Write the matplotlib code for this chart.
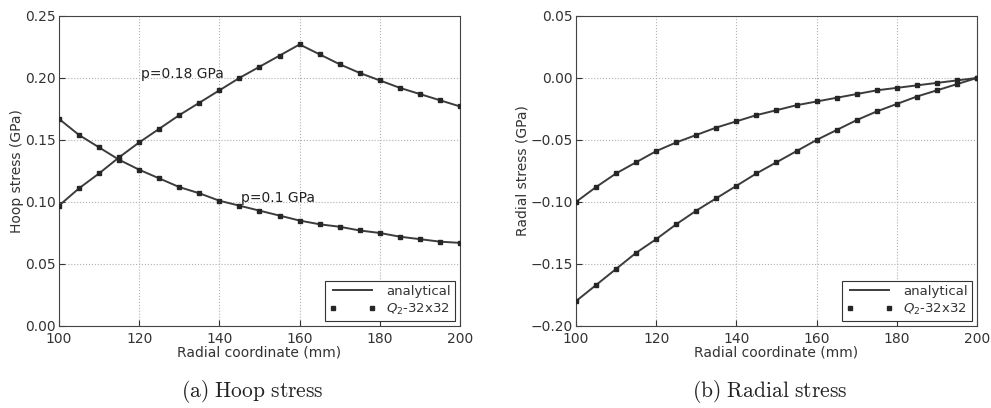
import matplotlib
matplotlib.use('Agg')
import matplotlib.pyplot as plt

# radial positions (mm)
r = [100, 105, 110, 115, 120, 125, 130, 135, 140, 145, 150,
     155, 160, 165, 170, 175, 180, 185, 190, 195, 200]

# hoop stress (GPa)
hoop_p010 = [0.167, 0.154, 0.144, 0.134, 0.126, 0.119, 0.112, 0.107, 0.101, 0.097, 0.093,
             0.089, 0.085, 0.082, 0.080, 0.077, 0.075, 0.072, 0.070, 0.068, 0.067]
hoop_p018 = [0.097, 0.111, 0.123, 0.136, 0.148, 0.159, 0.170, 0.180, 0.190, 0.200, 0.209,
             0.218, 0.227, 0.219, 0.211, 0.204, 0.198, 0.192, 0.187, 0.182, 0.177]

# radial stress (GPa)
rad_p010 = [-0.100, -0.088, -0.077, -0.068, -0.059, -0.052, -0.046, -0.040, -0.035, -0.030, -0.026,
            -0.022, -0.019, -0.016, -0.013, -0.010, -0.008, -0.006, -0.004, -0.002, 0.000]
rad_p018 = [-0.180, -0.167, -0.154, -0.141, -0.130, -0.118, -0.107, -0.097, -0.087, -0.077, -0.068,
            -0.059, -0.050, -0.042, -0.034, -0.027, -0.021, -0.015, -0.010, -0.005, 0.000]

hoop_ticks = [0.00, 0.05, 0.10, 0.15, 0.20, 0.25]
rad_ticks = [-0.20, -0.15, -0.10, -0.05, 0.00, 0.05]
x_ticks = [100, 120, 140, 160, 180, 200]

LINE_C = '#3c3c3c'
MARK_C = '#262626'
TXT_C = '#333333'


def draw(ax, curves, yticks, ylabel):
    for vals in curves:
        ax.plot(r, vals, '-', color=LINE_C, lw=1.4, zorder=2)
    for vals in curves:
        ax.plot(r, vals, 's', color=MARK_C, ms=3.2, mec=MARK_C, zorder=3)
    # legend handles
    ax.plot([], [], '-', color=LINE_C, lw=1.4, label='analytical')
    ax.plot([], [], 's', color=MARK_C, ms=3.2, mec=MARK_C, label=r'$Q_2$-32x32')
    ax.set_xlim(100, 200)
    ax.set_ylim(yticks[0], yticks[-1])
    ax.set_xticks(x_ticks)
    ax.set_yticks(yticks)
    ax.grid(True, ls=':', color='#b0b0b0', lw=0.8)
    ax.tick_params(direction='in', length=4, labelsize=10, colors=TXT_C)
    ax.tick_params(axis='y', pad=2)
    ax.tick_params(axis='x', pad=4)
    for sp in ax.spines.values():
        sp.set_color('#444444')
    ax.set_xlabel('Radial coordinate (mm)', fontsize=10, color=TXT_C, labelpad=0)
    ax.set_ylabel(ylabel, fontsize=10, color=TXT_C, labelpad=1)
    handles, labels = ax.get_legend_handles_labels()
    leg = ax.legend(handles[-2:], labels[-2:], loc='lower right', fontsize=9.5,
                    numpoints=2, handlelength=3.5, fancybox=False,
                    borderaxespad=0.4, borderpad=0.3, labelspacing=0.3,
                    framealpha=1)
    leg.get_frame().set_edgecolor('#333333')
    leg.get_frame().set_linewidth(0.8)
    for t in leg.get_texts():
        t.set_color(TXT_C)


plt.rcParams['mathtext.fontset'] = 'dejavusans'
fig = plt.figure(figsize=(9.91, 4.08), dpi=100)
ax1 = fig.add_axes([0.0595, 0.201, 0.4047, 0.760])
ax2 = fig.add_axes([0.5812, 0.201, 0.4047, 0.760])

draw(ax1, [hoop_p010, hoop_p018], hoop_ticks, 'Hoop stress (GPa)')
draw(ax2, [rad_p010, rad_p018], rad_ticks, 'Radial stress (GPa)')

ax1.text(120.4, 0.203, 'p=0.18 GPa', fontsize=10, va='center', color='#222222')
ax1.text(145.5, 0.103, 'p=0.1 GPa', fontsize=10, va='center', color='#222222')

# sub-figure captions in Computer Modern
fig.text(0.255, 0.04, r'$\mathrm{(a)\ Hoop\ stress}$', fontsize=15.5,
         math_fontfamily='cm', ha='center', va='center', color='#222222')
fig.text(0.777, 0.04, r'$\mathrm{(b)\ Radial\ stress}$', fontsize=15.5,
         math_fontfamily='cm', ha='center', va='center', color='#222222')

fig.savefig('out.png', dpi=100, facecolor='white')
